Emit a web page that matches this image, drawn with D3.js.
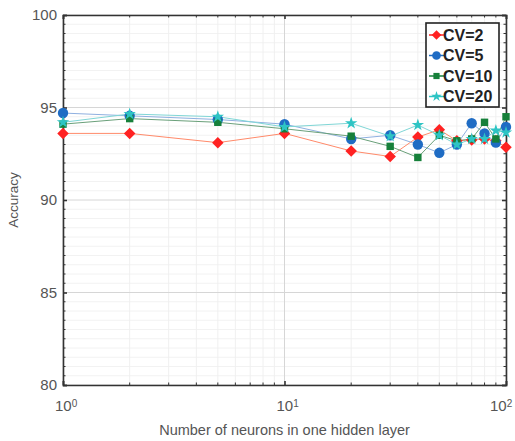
<!DOCTYPE html>
<html>
<head>
<meta charset="utf-8">
<script src="https://cdn.jsdelivr.net/npm/d3@7"></script>
<style>
  body { margin: 0; background: #fff; }
  text { font-family: "Liberation Sans", Arial, sans-serif; }
</style>
</head>
<body>
<div id="chart"></div>
<script>

// neurons in the hidden layer (x values)
var neurons = [1, 2, 5, 10, 20, 30, 40, 50, 60, 70, 80, 90, 100];

// accuracy for each cross validation setting
var cv2  = [93.6, 93.6, 93.1, 93.6, 92.65, 92.35, 93.4, 93.8, 93.2, 93.25, 93.3, 93.2, 92.85];
var cv5  = [94.7, 94.55, 94.35, 94.1, 93.3, 93.5, 93.0, 92.55, 93.0, 94.15, 93.6, 93.1, 93.95];
var cv10 = [94.1, 94.4, 94.2, 93.85, 93.45, 92.9, 92.3, 93.5, 93.2, 93.3, 94.2, 93.3, 94.5];
var cv20 = [94.2, 94.65, 94.5, 93.95, 94.15, 93.45, 94.05, 93.5, 93.0, 93.3, 93.3, 93.75, 93.65];

var seriesNames = ["CV=2", "CV=5", "CV=10", "CV=20"];
var yTicks = [80, 85, 90, 95, 100];
var xTicks = [1, 10, 100];

function createLineChart(){

  var margin = {top: 15, right: 9, bottom: 56, left: 63},
      width = 515 - margin.left - margin.right,
      height = 441 - margin.top - margin.bottom;

  var x = d3.scaleLog().domain([1, 100]).range([0, width]);
  var y = d3.scaleLinear().domain([80, 100]).range([height, 0]);

  var svg = d3.select("#chart").append("svg")
      .attr("width", 515)
      .attr("height", 441)
    .append("g")
      .attr("transform", "translate(" + margin.left + "," + margin.top + ")");

  // minor x values for grid and ticks
  var xMinor = [];
  [1, 10].forEach(function(dec) {
    for (var k = 2; k <= 9; k++) xMinor.push(dec * k);
  });
  var yMinor = d3.range(80, 100.01, 0.5).filter(function(v) { return v % 5 !== 0; });

  // minor grid
  svg.append("g").selectAll("line")
      .data(xMinor).enter().append("line")
      .attr("x1", function(d) { return x(d); }).attr("x2", function(d) { return x(d); })
      .attr("y1", 0).attr("y2", height)
      .attr("stroke", "#ececec").attr("stroke-width", 0.8);
  svg.append("g").selectAll("line")
      .data(yMinor).enter().append("line")
      .attr("x1", 0).attr("x2", width)
      .attr("y1", function(d) { return y(d); }).attr("y2", function(d) { return y(d); })
      .attr("stroke", "#efefef").attr("stroke-width", 0.8);

  // major grid
  svg.append("g").selectAll("line")
      .data(xTicks).enter().append("line")
      .attr("x1", function(d) { return x(d); }).attr("x2", function(d) { return x(d); })
      .attr("y1", 0).attr("y2", height)
      .attr("stroke", "#d6d6d6").attr("stroke-width", 1);
  svg.append("g").selectAll("line")
      .data(yTicks).enter().append("line")
      .attr("x1", 0).attr("x2", width)
      .attr("y1", function(d) { return y(d); }).attr("y2", function(d) { return y(d); })
      .attr("stroke", "#d6d6d6").attr("stroke-width", 1);

  // axes (ticks point inward, box on)
  var axisColor = "#333";
  var bottom = svg.append("g")
      .attr("transform", "translate(0," + height + ")")
      .call(d3.axisBottom(x).tickValues(xTicks).tickSize(-4).tickFormat(""));
  var top = svg.append("g")
      .call(d3.axisTop(x).tickValues(xTicks).tickSize(-4).tickFormat(""));
  var left = svg.append("g")
      .call(d3.axisLeft(y).tickValues(yTicks).tickSize(-4).tickFormat(""));
  var right = svg.append("g")
      .attr("transform", "translate(" + width + ",0)")
      .call(d3.axisRight(y).tickValues(yTicks).tickSize(-4).tickFormat(""));

  [bottom, top, left, right].forEach(function(g) {
    g.select(".domain").attr("stroke", axisColor).attr("stroke-width", 1.6);
    g.selectAll(".tick line").attr("stroke", axisColor).attr("stroke-width", 1.6);
  });

  // minor ticks
  var minorTicks = svg.append("g").attr("stroke", axisColor).attr("stroke-width", 1);
  xMinor.forEach(function(v) {
    minorTicks.append("line").attr("x1", x(v)).attr("x2", x(v)).attr("y1", height).attr("y2", height - 2.5);
    minorTicks.append("line").attr("x1", x(v)).attr("x2", x(v)).attr("y1", 0).attr("y2", 2.5);
  });
  yMinor.forEach(function(v) {
    minorTicks.append("line").attr("x1", 0).attr("x2", 2.5).attr("y1", y(v)).attr("y2", y(v));
    minorTicks.append("line").attr("x1", width).attr("x2", width - 2.5).attr("y1", y(v)).attr("y2", y(v));
  });

  // y tick labels
  svg.append("g").selectAll("text")
      .data(yTicks).enter().append("text")
      .attr("x", -6)
      .attr("y", function(d) { return y(d); })
      .attr("dy", "0.35em")
      .style("text-anchor", "end")
      .style("font-size", "15px")
      .attr("fill", "#555")
      .text(function(d) { return d; });

  // x tick labels as 10^n ("10" centred on the tick, exponent to its right)
  var xl = svg.append("g").selectAll("text")
      .data(xTicks).enter().append("text")
      .attr("x", function(d) { return Math.min(x(d) - 8, width - 16); })
      .attr("y", height + 26)
      .style("font-size", "15px")
      .attr("fill", "#555");
  xl.append("tspan").text("10");
  xl.append("tspan")
      .attr("dy", "-0.45em")
      .style("font-size", "10px")
      .text(function(d) { return Math.round(Math.log10(d)); });

  // axis labels
  svg.append("text")
      .attr("x", width / 2)
      .attr("y", height + 50)
      .style("text-anchor", "middle")
      .style("font-size", "14.5px")
      .attr("fill", "#555")
      .text("Number of neurons in one hidden layer");

  svg.append("text")
      .attr("transform", "rotate(-90)")
      .attr("x", -height / 2)
      .attr("y", -45)
      .style("text-anchor", "middle")
      .style("font-size", "13.5px")
      .attr("fill", "#555")
      .text("Accuracy");

  // series
  var series = [
    {name: seriesNames[0], values: cv2,  color: "#ff2222", line: "#ff8a6a", symbol: d3.symbolDiamond2, size: 85},
    {name: seriesNames[1], values: cv5,  color: "#1f6cc4", line: "#8fb0e0", symbol: d3.symbolCircle, size: 85},
    {name: seriesNames[2], values: cv10, color: "#16803a", line: "#6aa07a", symbol: d3.symbolSquare, size: 55},
    {name: seriesNames[3], values: cv20, color: "#2ec4c4", line: "#7fd6d6", symbol: d3.symbolStar, size: 48}
  ];

  var valueline = d3.line()
      .x(function(d) { return x(d[0]); })
      .y(function(d) { return y(d[1]); });

  series.forEach(function(s) {
    var pts = neurons.map(function(n, i) { return [n, s.values[i]]; });
    svg.append("path")
        .datum(pts)
        .attr("fill", "none")
        .attr("stroke", s.line)
        .attr("stroke-width", 1)
        .attr("d", valueline);
  });

  series.forEach(function(s) {
    var pts = neurons.map(function(n, i) { return [n, s.values[i]]; });
    svg.append("g").selectAll("path")
        .data(pts).enter().append("path")
        .attr("transform", function(d) { return "translate(" + x(d[0]) + "," + y(d[1]) + ")"; })
        .attr("d", d3.symbol().type(s.symbol).size(s.size))
        .attr("fill", s.color);
  });

  // legend
  var lg = svg.append("g").attr("transform", "translate(" + (426 - margin.left) + "," + (23 - margin.top) + ")");
  lg.append("rect")
      .attr("width", 73).attr("height", 84)
      .attr("fill", "#fff")
      .attr("stroke", "#222").attr("stroke-width", 1.6);
  series.forEach(function(s, i) {
    var yy = 12 + i * 20.5;
    lg.append("line")
        .attr("x1", 3).attr("x2", 18).attr("y1", yy).attr("y2", yy)
        .attr("stroke", s.color).attr("stroke-width", 1.5);
    lg.append("path")
        .attr("transform", "translate(10.5," + yy + ")")
        .attr("d", d3.symbol().type(s.symbol).size(s.size * 0.7))
        .attr("fill", s.color);
    lg.append("text")
        .attr("x", 17).attr("y", yy)
        .attr("dy", "0.36em")
        .style("font-size", "16px")
        .style("font-weight", "bold")
        .attr("fill", "#222")
        .text(s.name);
  });
}

createLineChart();
</script>
</body>
</html>
